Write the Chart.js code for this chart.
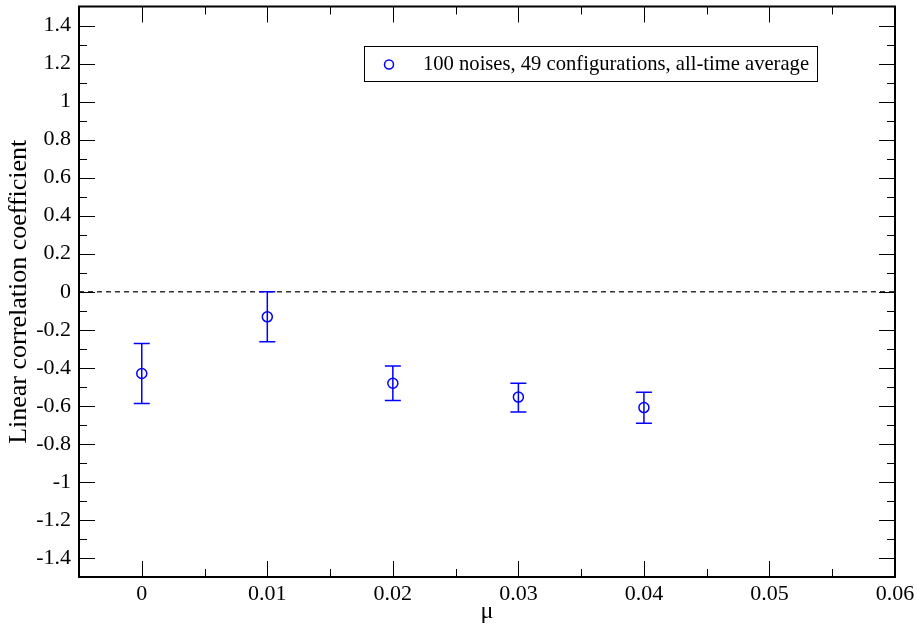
<!DOCTYPE html>
<html>
<head>
<meta charset="utf-8">
<script src="https://cdn.jsdelivr.net/npm/chart.js@4.4.0/dist/chart.umd.min.js"></script>
<style>
  html, body { margin: 0; padding: 0; background: #fff; }
  #wrap { width: 917px; height: 628px; }
</style>
</head>
<body>
<div id="wrap"><canvas id="chart"></canvas></div>
<script>
// data
const muValues   = [0, 0.01, 0.02, 0.03, 0.04];
const corrValues = [-0.43, -0.132, -0.481, -0.554, -0.609];
const errTop     = [-0.272, 0.0, -0.391, -0.481, -0.528];
const errBottom  = [-0.588, -0.263, -0.572, -0.632, -0.691];

const xTicks = [0, 0.01, 0.02, 0.03, 0.04, 0.05, 0.06];
const yTicks = [-1.4, -1.2, -1, -0.8, -0.6, -0.4, -0.2, 0, 0.2, 0.4, 0.6, 0.8, 1, 1.2, 1.4];
const xMinor = 0.005;
const yMinor = 0.1;

const seriesLabel = '100 noises, 49 configurations, all-time average';
const blue = '#0000ff';
const serif = 'Liberation Serif, Times New Roman, serif';

const fmt = v => String(parseFloat(v.toFixed(3)));

// frame, inward ticks, zero line, error bars and legend
const xmgrPlugin = {
  id: 'xmgr',
  beforeDatasetsDraw(chart) {
    const { ctx, chartArea: a, scales: { x, y } } = chart;
    ctx.save();
    // dashed zero line
    ctx.strokeStyle = '#333';
    ctx.lineWidth = 1.5;
    ctx.setLineDash([5, 4]);
    ctx.beginPath();
    const y0 = y.getPixelForValue(0);
    ctx.moveTo(a.left, y0);
    ctx.lineTo(a.right, y0);
    ctx.stroke();
    ctx.setLineDash([]);

    // error bars
    ctx.strokeStyle = blue;
    ctx.lineWidth = 1.5;
    muValues.forEach((m, i) => {
      const px = x.getPixelForValue(m);
      const t = y.getPixelForValue(errTop[i]);
      const b = y.getPixelForValue(errBottom[i]);
      ctx.beginPath();
      ctx.moveTo(px, t); ctx.lineTo(px, b);
      ctx.moveTo(px - 8, t); ctx.lineTo(px + 8, t);
      ctx.moveTo(px - 8, b); ctx.lineTo(px + 8, b);
      ctx.stroke();
    });
    ctx.restore();
  },
  afterDraw(chart) {
    const { ctx, chartArea: a, scales: { x, y } } = chart;
    ctx.save();
    ctx.strokeStyle = '#000';
    ctx.lineWidth = 1;
    ctx.beginPath();
    // x ticks (bottom + top)
    for (let v = -0.005; v <= 0.06 + 1e-9; v += xMinor) {
      const px = Math.round(x.getPixelForValue(v)) + 0.5;
      const major = xTicks.some(t => Math.abs(t - v) < 1e-9);
      const len = major ? 16 : 8;
      ctx.moveTo(px, a.bottom); ctx.lineTo(px, a.bottom - len);
      ctx.moveTo(px, a.top); ctx.lineTo(px, a.top + len);
    }
    // y ticks (left + right)
    for (let v = -1.5; v <= 1.5 + 1e-9; v += yMinor) {
      const py = Math.round(y.getPixelForValue(v)) + 0.5;
      const major = yTicks.some(t => Math.abs(t - v) < 1e-9);
      const len = major ? 16 : 8;
      ctx.moveTo(a.left, py); ctx.lineTo(a.left + len, py);
      ctx.moveTo(a.right, py); ctx.lineTo(a.right - len, py);
    }
    ctx.stroke();

    // frame
    ctx.lineWidth = 2;
    ctx.strokeRect(a.left, a.top, a.right - a.left, a.bottom - a.top);

    // legend box
    ctx.font = '20.6px ' + serif;
    const tw = ctx.measureText(seriesLabel).width;
    const bx = 364, by = 46, th = 35;
    const bw = (423 - bx) + tw + 8;
    ctx.fillStyle = '#fff';
    ctx.fillRect(bx, by, bw, th);
    ctx.lineWidth = 1;
    ctx.strokeRect(bx + 0.5, by + 0.5, bw, th);
    ctx.strokeStyle = blue;
    ctx.lineWidth = 1.5;
    ctx.beginPath();
    ctx.arc(389, by + th / 2 + 1, 4.5, 0, Math.PI * 2);
    ctx.stroke();
    ctx.fillStyle = '#000';
    ctx.textBaseline = 'middle';
    ctx.fillText(seriesLabel, 423, by + th / 2 + 1);
    ctx.restore();
  }
};

const ctx = document.getElementById('chart').getContext('2d');
new Chart(ctx, {
  type: 'scatter',
  data: {
    datasets: [{
      label: seriesLabel,
      data: muValues.map((m, i) => ({ x: m, y: corrValues[i] })),
      pointStyle: 'circle',
      pointRadius: 5,
      pointHoverRadius: 5,
      borderColor: blue,
      backgroundColor: 'rgba(0,0,0,0)',
      borderWidth: 1.5,
      showLine: false
    }]
  },
  options: {
    responsive: true,
    maintainAspectRatio: false,
    animation: false,
    layout: { padding: { top: 5, right: 22, left: 0, bottom: 0 } },
    plugins: { legend: { display: false }, tooltip: { enabled: false } },
    scales: {
      x: {
        type: 'linear',
        min: -0.005,
        max: 0.06,
        afterBuildTicks: s => { s.ticks = xTicks.map(v => ({ value: v })); },
        afterFit: s => { s.height = 51; s.paddingLeft = 0; s.paddingRight = 0; },
        grid: { display: false, drawTicks: false },
        border: { display: false },
        ticks: {
          color: '#000',
          font: { family: serif, size: 22 },
          padding: 4,
          maxRotation: 0,
          callback: v => fmt(v)
        },
        title: {
          display: true,
          text: 'μ',
          color: '#000',
          font: { family: serif, size: 24 },
          padding: { top: 0, bottom: 2 }
        }
      },
      y: {
        type: 'linear',
        min: -1.5,
        max: 1.5,
        afterBuildTicks: s => { s.ticks = yTicks.map(v => ({ value: v })); },
        afterFit: s => { s.width = 79; s.paddingTop = 0; s.paddingBottom = 0; },
        grid: { display: false, drawTicks: false },
        border: { display: false },
        ticks: {
          color: '#000',
          font: { family: serif, size: 22 },
          padding: 8,
          callback: v => fmt(v)
        },
        title: {
          display: true,
          text: 'Linear correlation coefficient',
          color: '#000',
          font: { family: serif, size: 26 },
          padding: { top: 4, bottom: 0 }
        }
      }
    }
  },
  plugins: [xmgrPlugin]
});
</script>
</body>
</html>
